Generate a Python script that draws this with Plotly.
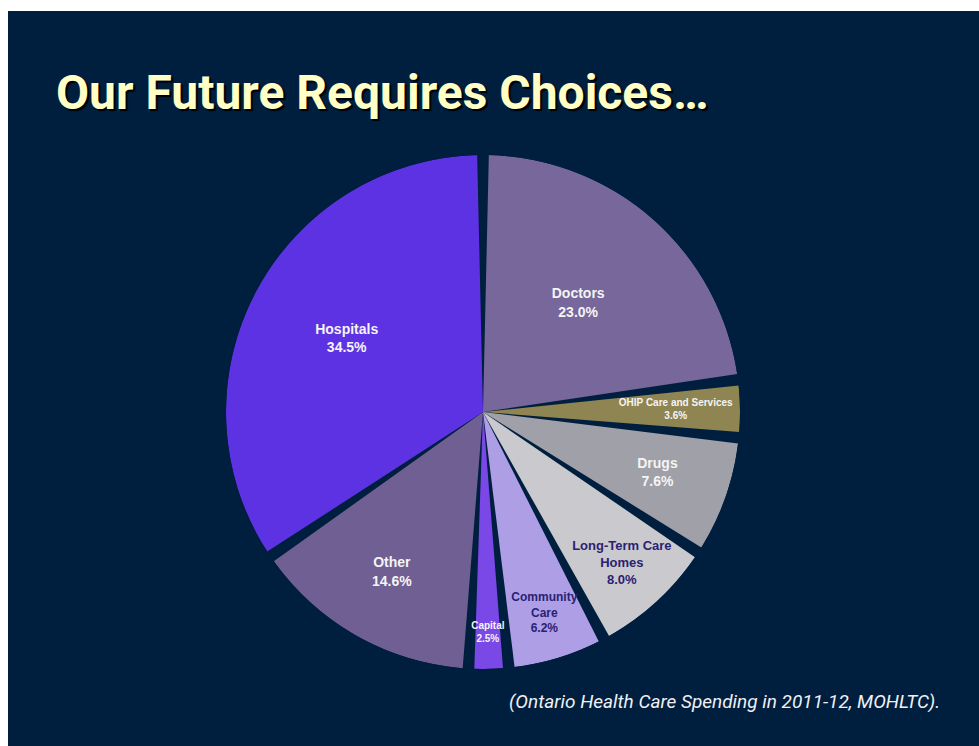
import plotly.graph_objects as go

# ---- data (clockwise from 12 o'clock) ----
categories = ["Doctors", "OHIP Care and Services", "Drugs", "Long-Term Care<br>Homes",
              "Community<br>Care", "Capital", "Other", "Hospitals"]
shares = [23.0, 3.6, 7.6, 8.0, 6.2, 2.5, 14.6, 34.5]

title_text = "Our Future Requires Choices…"
source_text = "(Ontario Health Care Spending in 2011-12, MOHLTC)."

# ---- styles ----
BG = "#001e3e"
colors = ["#77679b", "#8f8552", "#a0a0a8", "#cacace", "#ae9ee6", "#7b48e8", "#6f5f92", "#5d32e2"]
text_colors = ["#f4f4f4", "#f4f4f4", "#f4f4f4", "#2a2272", "#2a2272", "#f4f4f4", "#f4f4f4", "#f4f4f4"]
text_sizes = [14, 10, 14, 13, 12, 10, 14, 14]
label_radius = [0.56, 0.75, 0.72, 0.8, 0.82, 0.86, 0.72, 0.6]
GAP_DEG = 2.6

total = sum(shares)
widths, mids = [], []
acc = 0.0
for v in shares:
    deg = v / total * 360.0
    mids.append(acc + deg / 2)
    widths.append(deg - GAP_DEG)
    acc += deg

fig = go.Figure()
fig.add_trace(go.Barpolar(
    r=[1] * len(shares), theta=mids, width=widths,
    marker=dict(color=colors, line=dict(width=0)),
    hoverinfo="skip", showlegend=False,
))
fig.add_trace(go.Scatterpolar(
    r=label_radius, theta=mids, mode="text",
    text=[f"<b>{c}</b><br><b>{v:.1f}%</b>" for c, v in zip(categories, shares)],
    textfont=dict(family="Liberation Sans, Arial, sans-serif", color=text_colors, size=text_sizes),
    hoverinfo="skip", showlegend=False,
))

W, H = 979, 746
cx, cy, R = 483, 412, 257
fig.update_layout(
    width=W, height=H,
    margin=dict(l=0, r=0, t=0, b=0),
    paper_bgcolor="white",
    plot_bgcolor=BG,
    polar=dict(
        domain=dict(x=[(cx - R) / W, (cx + R) / W], y=[1 - (cy + R) / H, 1 - (cy - R) / H]),
        bgcolor="rgba(0,0,0,0)",
        hole=0,
        radialaxis=dict(visible=False, range=[0, 1]),
        angularaxis=dict(visible=False, rotation=90, direction="clockwise"),
    ),
    shapes=[dict(type="rect", xref="paper", yref="paper", x0=8 / W, x1=1, y0=0, y1=1 - 11 / H,
                 fillcolor=BG, line=dict(width=0), layer="below")],
    annotations=[
        dict(text=f"<b>{title_text}</b>", xref="paper", yref="paper", x=54 / W, y=1 - 93 / H,
             xanchor="left", yanchor="middle", showarrow=False,
             font=dict(family="Roboto, sans-serif",
                       size=48, color="#ffffc6", shadow="2px 2px 1px #000000")),
        dict(text=f"<i>{source_text}</i>", xref="paper", yref="paper", x=942 / W, y=1 - 701 / H,
             xanchor="right", yanchor="middle", showarrow=False,
             font=dict(family="Roboto, sans-serif",
                       size=19, color="#f0f0f4")),
    ],
)
fig.write_html("out.html")
